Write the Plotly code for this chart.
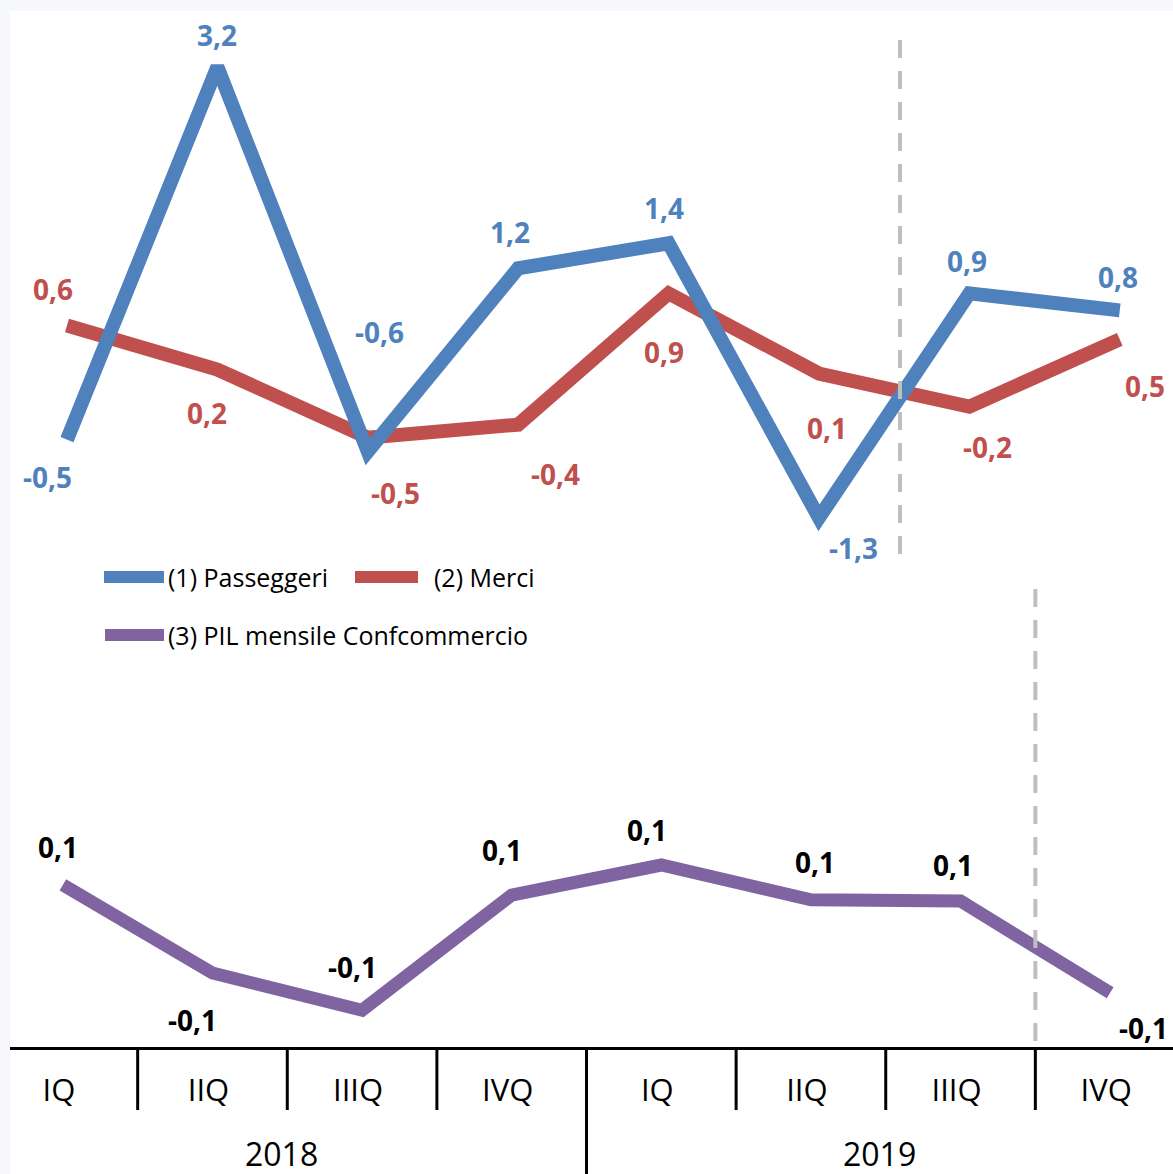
import plotly.graph_objects as go

# ---------------- data ----------------
quarters = ["IQ", "IIQ", "IIIQ", "IVQ", "IQ", "IIQ", "IIIQ", "IVQ"]
years = ["2018", "2019"]
passeggeri = [-0.52, 3.2, -0.64, 1.19, 1.44, -1.3, 0.94, 0.77]
passeggeri_lbl = ["-0,5", "3,2", "-0,6", "1,2", "1,4", "-1,3", "0,9", "0,8"]
merci = [0.62, 0.18, -0.5, -0.37, 0.94, 0.14, -0.19, 0.48]
merci_lbl = ["0,6", "0,2", "-0,5", "-0,4", "0,9", "0,1", "-0,2", "0,5"]
pil = [0.087, -0.06, -0.122, 0.07, 0.12, 0.062, 0.06, -0.093]
pil_lbl = ["0,1", "-0,1", "-0,1", "0,1", "0,1", "0,1", "0,1", "-0,1"]
series_names = ["(1) Passeggeri", "(2) Merci", "(3) PIL mensile Confcommercio"]

# ---------------- styles ----------------
BLUE, RED, PURPLE = "#4f81bd", "#c0504d", "#8064a2"
FONT = "Open Sans"
W, H = 1173, 1174
ML, MT, MB = 10, 11, 127
PW, PH = W - ML, H - MT - MB

# label offsets (px) relative to each point
p_off = [(-20, 37), (0, -32), (12, -120), (-8, -36), (-5, -35), (35, 30), (-2, -32), (-2, -33)]
m_off = [(-14, -36), (-10, 43), (28, 55), (37, 49), (-5, 59), (8, 54), (18, 40), (25, 47)]
g_off = [(-5, -38), (-20, 47), (-10, -43), (-10, -45), (-14, -35), (4, -38), (-8, -36), (33, 35)]

xs = list(range(len(quarters)))

fig = go.Figure()
fig.add_trace(go.Scatter(x=xs, y=pil, mode="lines", line=dict(color=PURPLE, width=13),
                         xaxis="x", yaxis="y", showlegend=False, hoverinfo="skip"))
fig.add_trace(go.Scatter(x=xs, y=merci, mode="lines", line=dict(color=RED, width=14),
                         xaxis="x2", yaxis="y2", showlegend=False, hoverinfo="skip"))
fig.add_trace(go.Scatter(x=xs, y=passeggeri, mode="lines", line=dict(color=BLUE, width=14),
                         xaxis="x2", yaxis="y2", showlegend=False, hoverinfo="skip"))

annotations = []
def add_labels(vals, lbls, offs, color, xref, yref):
    for i, (v, t, (dx, dy)) in enumerate(zip(vals, lbls, offs)):
        annotations.append(dict(x=i, y=v, xref=xref, yref=yref, text=t, showarrow=False,
                                xshift=dx, yshift=-dy, xanchor="center", yanchor="middle",
                                font=dict(family=FONT, size=28, color=color, weight=700)))

add_labels(passeggeri, passeggeri_lbl, p_off, BLUE, "x2", "y2")
add_labels(merci, merci_lbl, m_off, RED, "x2", "y2")
add_labels(pil, pil_lbl, g_off, "#000000", "x", "y")

# year labels
for k, yr in enumerate(years):
    annotations.append(dict(x=1.5 + 4 * k, xshift=-6, y=-(1153 - 1047) / PH, xref="x", yref="paper",
                            text=yr, showarrow=False, yanchor="middle",
                            font=dict(family=FONT, size=32, color="#000000")))

# legend (manual)
def px2x(px):
    return (px - ML) / PW
def py2y(py):
    return 1 - (py - MT) / PH

leg = [(104, 164, 577, BLUE, 166, series_names[0]),
       (355, 418, 577, RED, 432, series_names[1]),
       (105, 164, 635, PURPLE, 166, series_names[2])]
shapes = []
shapes.append(dict(type="rect", xref="paper", yref="paper", x0=0, x1=1,
                   y0=-MB / PH, y1=0, fillcolor="white", line=dict(width=0), layer="below"))
for x0, x1, yy, col, tx, name in leg:
    shapes.append(dict(type="line", xref="paper", yref="paper", x0=px2x(x0), x1=px2x(x1),
                       y0=py2y(yy), y1=py2y(yy), line=dict(color=col, width=12)))
    annotations.append(dict(x=px2x(tx), y=py2y(yy), xref="paper", yref="paper", text=name,
                            showarrow=False, xanchor="left", yanchor="middle",
                            font=dict(family=FONT, size=25, color="#000000")))

# separators
for i in range(len(quarters) - 1):
    long = (i == 3)
    shapes.append(dict(type="line", xref="x", yref="paper", x0=i + 0.5, x1=i + 0.5,
                       y0=0, y1=-(127 if long else 63) / PH,
                       line=dict(color="#000000", width=3)))
# dashed reference lines
shapes.append(dict(type="line", xref="paper", yref="paper", x0=px2x(900), x1=px2x(900),
                   y0=py2y(40), y1=py2y(555), line=dict(color="#bfbfbf", width=4, dash="18px,13px")))
shapes.append(dict(type="line", xref="x", yref="paper", x0=6.5, x1=6.5,
                   y0=py2y(589), y1=py2y(1045), line=dict(color="#bfbfbf", width=4, dash="18px,13px")))

fig.update_layout(
    width=W, height=H,
    margin=dict(l=ML, r=0, t=MT, b=MB),
    paper_bgcolor="#f6f8fc", plot_bgcolor="white",
    showlegend=False,
    xaxis=dict(range=[-0.3533, 7.42], tickvals=xs, ticktext=quarters, showgrid=False,
               zeroline=False, showline=True, linecolor="#000000", linewidth=3,
               ticks="outside", ticklen=14, tickcolor="rgba(0,0,0,0)", ticklabelshift=-4,
               tickfont=dict(family=FONT, size=31, color="#000000")),
    xaxis2=dict(range=[-0.379, 7.354], overlaying="x", visible=False),
    yaxis=dict(range=[-0.1833, 1.5433], visible=False),
    yaxis2=dict(range=[-6.581, 3.758], overlaying="y", visible=False),
    shapes=shapes, annotations=annotations,
)

fig.write_html("out.html", config={"displayModeBar": False},
               post_script="document.body.style.margin='0';document.body.style.overflow='hidden';")
